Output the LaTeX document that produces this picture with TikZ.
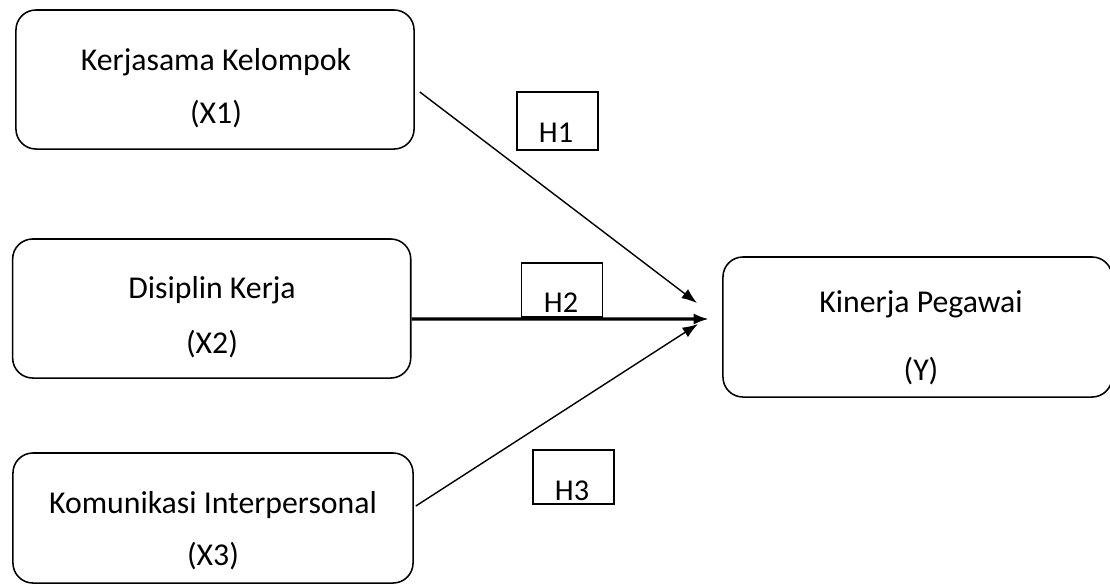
\documentclass[tikz,border=0pt]{standalone}
\usepackage{fontspec}
\setmainfont{Carlito}
\usetikzlibrary{arrows.meta}

\begin{document}
\begin{tikzpicture}[x=0.025cm, y=-0.025cm,
    var/.style={draw, line width=1.1pt, rounded corners=0.5cm, minimum width=9.95cm, minimum height=3.475cm},
    hbox/.style={draw, line width=1pt, minimum width=2.02cm, minimum height=1.38cm},
    txt/.style={anchor=base, inner sep=0pt, font=\fontsize{22.6}{27}\selectfont},
    htxt/.style={anchor=base, inner sep=0pt, font=\fontsize{21.5}{26}\selectfont},
    arr/.style={-{Latex[length=11pt, width=8pt]}, line width=1pt}]
    \useasboundingbox (0,0) rectangle (1110,587);

    % variabel bebas
    \node[var] (x1) at (215,79.5) {};
    \node[txt] (x1a) at (216,70) {Kerjasama Kelompok};
    \node[txt] (x1b) at (216,123) {(X1)};

    \node[var] (x2) at (211.7,308.5) {};
    \node[txt] (x2a) at (212,298) {Disiplin Kerja};
    \node[txt] (x2b) at (212,353) {(X2)};

    \node[var, minimum width=10cm, minimum height=3.25cm] (x3) at (213,518) {};
    \node[txt] (x3a) at (213,513) {Komunikasi Interpersonal};
    \node[txt] (x3b) at (213,565) {(X3)};

    % variabel terikat
    \node[var, minimum width=9.725cm, minimum height=3.5cm] (y) at (917.5,327) {};
    \node[txt] (ya) at (921,312) {Kinerja Pegawai};
    \node[txt] (yb) at (921,380) {(Y)};

    % hipotesis
    \node[hbox, minimum height=1.45cm] (h1) at (557.5,121) {};
    \node[htxt] (h1t) at (556,142) {H1};
    \node[hbox, minimum height=1.35cm] (h2) at (562,290) {};
    \node[htxt] (h2t) at (561,312) {H2};
    \node[hbox, minimum height=1.35cm] (h3) at (573.5,477) {};
    \node[htxt] (h3t) at (572,500) {H3};

    % panah
    \coordinate (t1) at (697,303);
    \coordinate (t2) at (709,319);
    \coordinate (t3) at (698,324);
    \draw[arr] ([shift={(5,12.5)}]x1.east) -- (t1);
    \draw[arr, line width=2.2pt] ([shift={(0,10.5)}]x2.east) -- (t2);
    \draw[arr] ([shift={(2,-12)}]x3.east) -- (t3);
\end{tikzpicture}
\end{document}
